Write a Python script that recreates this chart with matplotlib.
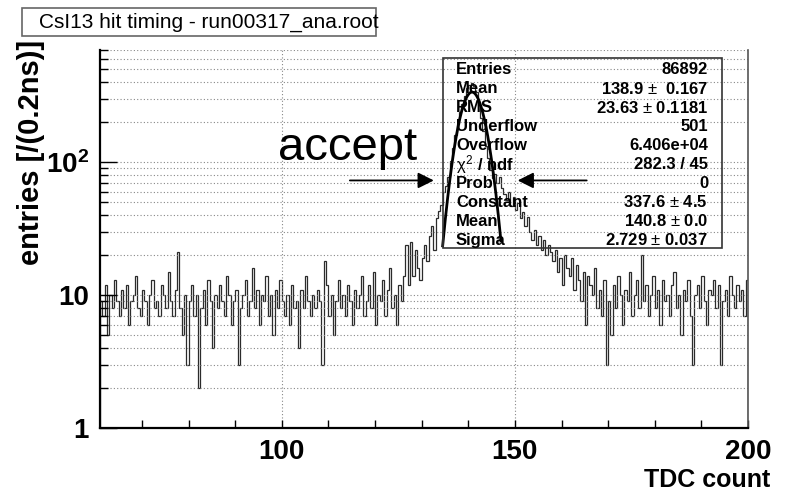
import numpy as np
import matplotlib
matplotlib.use("Agg")
import matplotlib.pyplot as plt
from matplotlib import font_manager
from matplotlib.patches import Rectangle
from matplotlib.ticker import FixedLocator, FixedFormatter, LogLocator, MultipleLocator, NullFormatter

# histogram: TDC count, 0.5 wide bins from 61 to 200
x_lo, x_hi, bin_w = 61.0, 200.0, 0.5
counts = [
    # 61 - 127 flat background
    9, 7, 12, 5, 10, 8, 13, 9, 7, 11,
    8, 12, 6, 9, 10, 14, 8, 7, 11, 9,
    6, 10, 13, 8, 9, 7, 12, 10, 8, 15,
    9, 7, 11, 21, 8, 5, 10, 3, 9, 12,
    7, 10, 2, 8, 11, 6, 13, 9, 4, 10,
    8, 12, 9, 7, 14, 10, 6, 9, 11, 3,
    8, 10, 13, 7, 9, 16, 8, 11, 6, 10,
    9, 14, 7, 10, 5, 11, 8, 13, 9, 7,
    10, 6, 12, 8, 9, 4, 11, 8, 14, 9,
    7, 10, 8, 11, 9, 3, 18, 12, 7, 10,
    5, 9, 13, 8, 10, 7, 12, 9, 6, 11,
    8, 10, 14, 7, 9, 12, 8, 15, 6, 10,
    9, 13, 7, 11, 16, 8, 10, 6, 12, 9,
    14, 24,
    # 127 - 134 rising edge
    12, 25, 14, 22, 16, 13, 19, 24, 18, 28, 33, 22, 38, 43,
    # 134 - 148 peak
    48, 60, 66, 78, 102, 128, 160, 195, 240, 275, 318, 365, 382, 392,
    375, 340, 270, 215, 172, 132, 108, 88, 76, 82, 70, 78, 64, 58,
    # 148 - 168 tail
    52, 60, 47, 55, 44, 49, 38, 42, 33, 39, 30, 26, 31, 24, 28, 22, 26, 20, 24, 21,
    18, 22, 15, 19, 12, 20, 16, 14, 19, 11, 17, 13, 9, 15, 6, 14, 12, 10, 16, 8,
    # 168 - 200 background
    11, 7, 13, 3, 9, 5, 12, 8, 14, 10,
    6, 11, 9, 15, 7, 10, 13, 8, 20, 9,
    12, 7, 10, 14, 8, 11, 6, 13, 9, 10,
    7, 12, 15, 8, 10, 5, 11, 9, 13, 7,
    3, 10, 12, 8, 14, 9, 6, 11, 10, 13,
    8, 12, 3, 9, 11, 7, 14, 10, 8, 12,
    9, 11, 7, 13,
]

# gaussian fit parameters (from the stats box)
fit_const, fit_mean, fit_sigma = 337.6, 140.8, 2.729
fit_range = (134.5, 147.0)

# accept window arrows
accept_lo, accept_hi = 133.2, 150.0
arrow_y = 73

stat_names = ["Entries", "Mean", "RMS", "Underflow", "Overflow",
              "$\\chi^{2}$ / ndf", "Prob", "Constant", "Mean", "Sigma"]
stat_vals = ["86892", "138.9 $\\pm$  0.167", "23.63 $\\pm$ 0.1181", "501", "6.406e+04",
             "282.3 / 45", "0", "337.6 $\\pm$ 4.5", "140.8 $\\pm$ 0.0", "2.729 $\\pm$ 0.037"]

names = {f.name for f in font_manager.fontManager.ttflist}
axis_font = "Liberation Sans Narrow" if "Liberation Sans Narrow" in names else "Liberation Sans"

plt.rcParams["font.family"] = ["Liberation Sans", "DejaVu Sans"]
plt.rcParams["mathtext.fontset"] = "custom"
plt.rcParams["mathtext.rm"] = "Liberation Sans"
plt.rcParams["mathtext.it"] = "Liberation Sans"
plt.rcParams["mathtext.bf"] = axis_font + ":bold"

W, H = 791, 496
fig = plt.figure(figsize=(W / 100, H / 100), dpi=100)
ax = fig.add_axes([100 / W, 1 - 428 / H, 648 / W, 378 / H])

edges = np.arange(x_lo, x_hi + bin_w / 2, bin_w)
ax.stairs(counts, edges, color="#2b2b2b", lw=0.9)

xf = np.linspace(fit_range[0], fit_range[1], 200)
ax.plot(xf, fit_const * np.exp(-0.5 * ((xf - fit_mean) / fit_sigma) ** 2), color="black", lw=2.0)

ax.set_yscale("log")
ax.set_xlim(x_lo, x_hi)
ax.set_ylim(1, 700)

ax.xaxis.set_major_locator(FixedLocator([100, 150, 200]))
ax.xaxis.set_minor_locator(MultipleLocator(10))
ax.yaxis.set_major_locator(FixedLocator([1, 10, 100]))
ax.yaxis.set_major_formatter(FixedFormatter(["1", "10", "$\\mathbf{10^{2}}$"]))
ax.yaxis.set_minor_locator(LogLocator(base=10, subs=np.arange(2, 10)))
ax.yaxis.set_minor_formatter(NullFormatter())

ax.grid(True, which="major", axis="x", color="#888888", lw=0.8, ls=(0, (1, 2)))
ax.grid(True, which="both", axis="y", color="#888888", lw=0.8, ls=(0, (1, 2)))

ax.tick_params(axis="x", which="both", direction="in", length=6, width=1, top=False, pad=8)
ax.tick_params(axis="y", which="major", direction="in", length=12, width=1, right=False, pad=8)
ax.tick_params(axis="y", which="minor", direction="in", length=6, width=1, right=False)
for lab in ax.get_xticklabels() + ax.get_yticklabels():
    lab.set_fontfamily(axis_font)
    lab.set_fontweight("bold")
    lab.set_fontsize(20)

ax.spines["top"].set_visible(False)
ax.spines["left"].set_linewidth(1.6)
ax.spines["bottom"].set_linewidth(1.6)
ax.spines["right"].set_color("#555555")
ax.spines["right"].set_linewidth(1.2)

fig.text(770 / W, 1 - 480 / H, "TDC count", ha="right", va="center",
         fontfamily=axis_font, fontweight="bold", fontsize=18)
fig.text(31 / W, 1 - 40 / H, "entries [/(0.2ns)]", rotation=90, ha="center", va="top",
         fontfamily=axis_font, fontweight="bold", fontsize=21)

# title box
fig.patches.append(Rectangle((22 / W, 1 - 36 / H), 354 / W, 28 / H, transform=fig.transFigure,
                             facecolor="white", edgecolor="#666666", lw=1.2))
fig.text(39 / W, 1 - 22 / H, "CsI13 hit timing - run00317_ana.root", ha="left", va="center",
         fontsize=15)

# stats box
fig.patches.append(Rectangle((443 / W, 1 - 248 / H), 279 / W, 190 / H, transform=fig.transFigure,
                             facecolor="none", edgecolor="#333333", lw=1.2, zorder=5))
for i, (n, v) in enumerate(zip(stat_names, stat_vals)):
    yy = 1 - (70 + i * 18.9) / H
    fig.text(456 / W, yy, n, ha="left", va="center", fontsize=12, fontweight="bold", zorder=6)
    fig.text(708 / W, yy, v, ha="right", va="center", fontsize=12, fontweight="bold", zorder=6)

# accept window
fig.text(348 / W, 1 - 160 / H, "accept", ha="center", va="baseline", fontsize=34)
ax.annotate("", xy=(accept_lo, arrow_y), xytext=(114, arrow_y),
            arrowprops=dict(arrowstyle="-|>", color="black", lw=1.3, mutation_scale=24))
ax.annotate("", xy=(accept_hi, arrow_y), xytext=(166, arrow_y),
            arrowprops=dict(arrowstyle="-|>", color="black", lw=1.3, mutation_scale=24))

fig.savefig("out.png", dpi=100)
